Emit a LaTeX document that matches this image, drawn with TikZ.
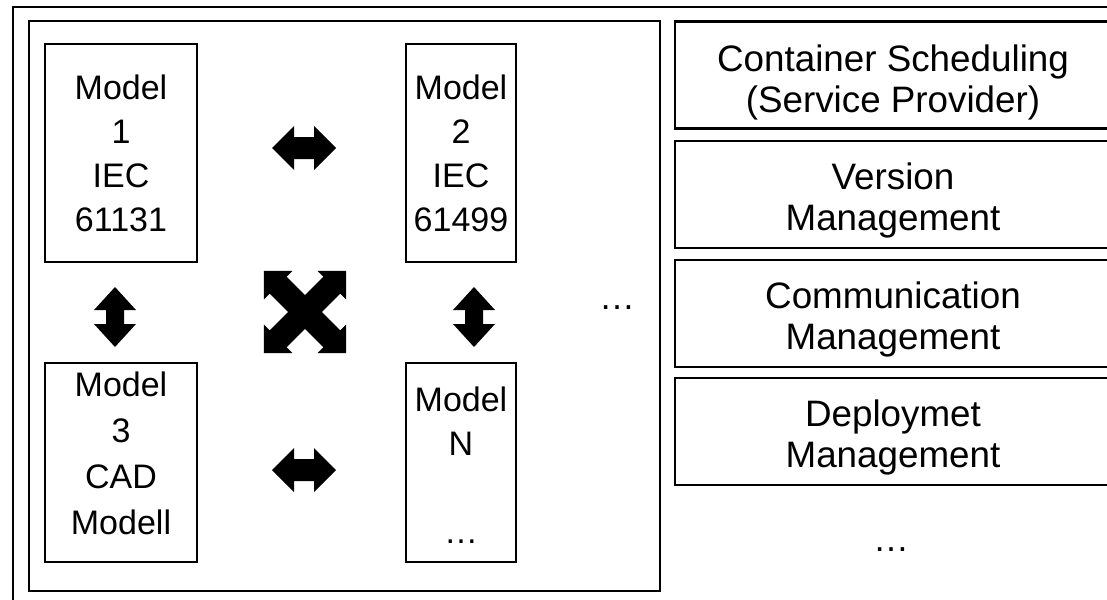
\documentclass[tikz,border=0pt]{standalone}
\usepackage{fontspec}
\setmainfont{Liberation Sans}
\begin{document}
\begin{tikzpicture}[x=1pt,y=-1pt,
  frame/.style={draw, line width=2.6pt},
  mbox/.style={draw, line width=2.6pt, inner sep=0pt},
  mtext/.style={inner sep=0pt, align=center, font=\fontsize{34}{44}\selectfont},
  rbox/.style={draw, line width=2.6pt, inner sep=0pt, minimum width=436pt, minimum height=107pt},
  rtext/.style={inner sep=0pt, align=center, font=\fontsize{36.8}{41}\selectfont},
  lbl/.style={inner sep=0pt, font=\fontsize{36}{44}\selectfont},
  pics/harrow/.style={code={\fill (-32,0) -- (-10,-22) -- (-10,-11) -- (10,-11) -- (10,-22) -- (32,0) -- (10,22) -- (10,11) -- (-10,11) -- (-10,22) -- cycle;}},
  pics/varrow/.style={code={\fill (0,-30) -- (-21,-7) -- (-9,-7) -- (-9,7) -- (-21,7) -- (0,30) -- (21,7) -- (9,7) -- (9,-7) -- (21,-7) -- cycle;}},
  pics/xarm/.style={code={\fill (-58,0) -- (-38,-20) -- (-38,-12) -- (38,-12) -- (38,-20) -- (58,0) -- (38,20) -- (38,12) -- (-38,12) -- (-38,20) -- cycle;}}
]
\useasboundingbox (0,0) rectangle (1107,599);
\clip (0,0) rectangle (1107,599);

% outer frame (cropped)
\coordinate (ob) at (13,610);
\coordinate (otl) at (13,7);
\coordinate (otr) at (1120,7);
\draw[frame] (ob) -- (otl) -- (otr);

% inner frame
\node[mbox, minimum width=631pt, minimum height=570pt] (inner) at (344.5,306) {};

% model boxes
\node[mbox, minimum width=152pt, minimum height=218pt] (m1) at (121,153) {};
\node[mbox, minimum width=110pt, minimum height=218pt] (m2) at (461,153) {};
\node[mbox, minimum width=152pt, minimum height=199pt] (m3) at (121,462.5) {};
\node[mbox, minimum width=110pt, minimum height=199pt] (mn) at (461,462.5) {};

\node[mtext] (t1) at (m1.center) {Model\\1\\IEC\\61131};
\node[mtext] (t2) at (m2.center) {Model\\2\\IEC\\61499};
\node[mtext, font=\fontsize{34}{46}\selectfont] (t3) at (121,453) {Model\\3\\CAD\\Modell};
\node[mtext] (tn) at (461,465) {Model\\N\\~\\…};

% arrows
\pic at (304,148) {harrow};
\pic at (304,470) {harrow};
\pic at (115,317) {varrow};
\pic at (474,317) {varrow};
\pic[rotate=45] at (305,312) {xarm};
\pic[rotate=-45] at (305,312) {xarm};

\node[lbl] (dots1) at (617,308) {…};

% right boxes
\node[rbox] (r1) at (893,75) {};
\node[rbox] (r2) at (893,194.5) {};
\node[rbox] (r3) at (893,313.5) {};
\node[rbox] (r4) at (893,431.5) {};
\node[rtext] (rt1) at ([yshift=-7pt]r1.center) {Container Scheduling\\(Service Provider)};
\node[rtext] (rt2) at ([yshift=-6pt]r2.center) {Version\\Management};
\node[rtext] (rt3) at ([yshift=-6pt]r3.center) {Communication\\Management};
\node[rtext] (rt4) at ([yshift=-6pt]r4.center) {Deploymet\\Management};
\node[lbl] (dots2) at (891,550) {…};
\end{tikzpicture}
\end{document}
